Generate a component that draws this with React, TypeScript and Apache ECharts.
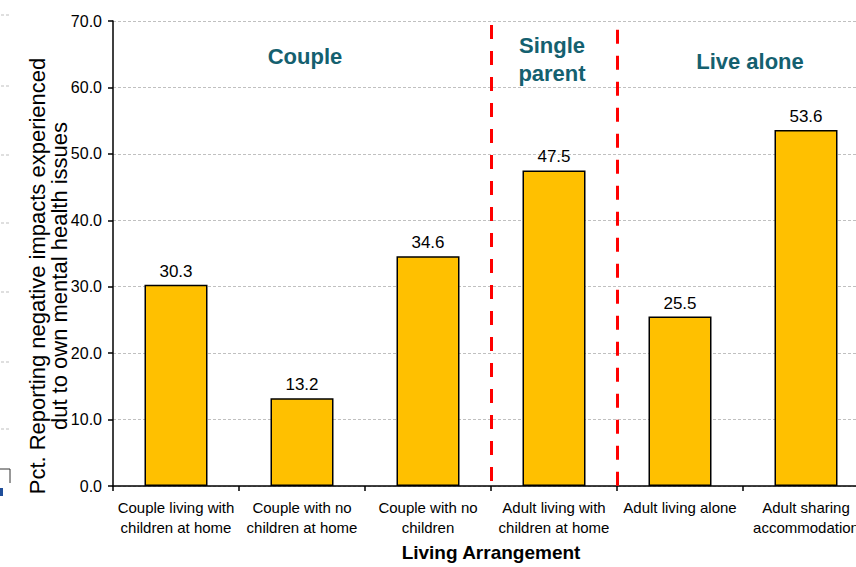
import React, { useEffect, useRef } from "react";
import * as echarts from "echarts";

const categories = [
  "Couple living with\nchildren at home",
  "Couple with no\nchildren at home",
  "Couple with no\nchildren",
  "Adult living with\nchildren at home",
  "Adult living alone",
  "Adult sharing\naccommodation",
];
const values = [30.3, 13.2, 34.6, 47.5, 25.5, 53.6];
const separators = [3, 4];
const separatorTops = [69.4, 68.7];
const groupTitles = ["Couple", "Single\nparent", "Live alone"];
const leftArtifactYs = [15, 86, 155, 223, 292, 362, 429];

export default function App() {
  const ref = useRef<HTMLDivElement>(null);
  useEffect(() => {
    if (!ref.current) return;
    const chart = echarts.init(ref.current, undefined, { renderer: "svg" });
    const font = "Arial, 'Liberation Sans', sans-serif";
    const titleColor = "#14606F";
    const gridLeft = 113;
    const gridTop = 21;
    const gridWidth = 756;
    const gridHeight = 465;
    const band = gridWidth / categories.length;
    const graphics: any[] = [];
    graphics.push({
      type: "text",
      x: gridLeft + band * 1.5 + 3,
      y: 56,
      style: { text: groupTitles[0], fill: titleColor, font: `bold 22px ${font}`, textAlign: "center", textVerticalAlign: "middle" },
    });
    graphics.push({
      type: "text",
      x: gridLeft + band * 3.5 - 2,
      y: 59,
      style: { text: groupTitles[1], fill: titleColor, font: `bold 22px ${font}`, textAlign: "center", textVerticalAlign: "middle", lineHeight: 28 },
    });
    graphics.push({
      type: "text",
      x: gridLeft + band * 5 + 7,
      y: 61,
      style: { text: groupTitles[2], fill: titleColor, font: `bold 22px ${font}`, textAlign: "center", textVerticalAlign: "middle" },
    });
    graphics.push({
      type: "text",
      x: 48,
      y: 276,
      rotation: Math.PI / 2,
      style: {
        text: "Pct. Reporting negative impacts experienced\ndut to own mental health issues",
        fill: "#000",
        font: `22px ${font}`,
        textAlign: "center",
        textVerticalAlign: "middle",
        lineHeight: 22,
      },
    });
    leftArtifactYs.forEach((y) => {
      graphics.push({
        type: "line",
        shape: { x1: 1, y1: y, x2: 11, y2: y },
        style: { stroke: "#BFBFBF", lineWidth: 1, lineDash: [3, 2] },
      });
    });
    graphics.push({
      type: "polyline",
      shape: { points: [[0, 469], [10, 469], [10, 483]] },
      style: { stroke: "#333", lineWidth: 1, fill: "none" },
    });
    graphics.push({
      type: "rect",
      shape: { x: 0, y: 488, width: 3, height: 8 },
      style: { fill: "#1F4E9A" },
    });

    chart.setOption({
      animation: false,
      backgroundColor: "#fff",
      grid: {
        left: gridLeft,
        top: gridTop,
        width: gridWidth,
        height: gridHeight,
        containLabel: false,
        outerBoundsMode: "none",
      },
      xAxis: [
        {
          type: "category",
          data: categories,
          axisLine: { lineStyle: { color: "#000", width: 1.5 } },
          axisTick: { show: true, alignWithLabel: false, length: 5, lineStyle: { color: "#000", width: 1.5 } },
          axisLabel: { interval: 0, color: "#000", fontFamily: font, fontSize: 15, lineHeight: 20, margin: 11, hideOverlap: false },
          name: "Living Arrangement",
          nameLocation: "middle",
          nameGap: 57,
          nameTextStyle: { color: "#000", fontFamily: font, fontSize: 19, fontWeight: "bold", verticalAlign: "top" },
        },
        { type: "value", min: 0, max: categories.length, show: false, position: "top" },
      ],
      yAxis: {
        type: "value",
        min: 0,
        max: 70,
        interval: 10,
        axisLine: { show: true, lineStyle: { color: "#000", width: 1.5 } },
        axisTick: { show: true, length: 5, lineStyle: { color: "#000", width: 1.5 } },
        axisLabel: { color: "#000", fontFamily: font, fontSize: 16, margin: 11, formatter: (v: number) => v.toFixed(1) },
        splitLine: { show: true, lineStyle: { color: "#C0C0C0", type: [3, 2], width: 1 } },
      },
      series: [
        {
          type: "bar",
          data: values,
          barWidth: 63,
          itemStyle: { color: "#FFC000", borderColor: "#000", borderWidth: 1.5 },
          label: {
            show: true,
            position: "top",
            distance: 5,
            color: "#000",
            fontFamily: font,
            fontSize: 17,
            formatter: (p: any) => p.value.toFixed(1),
          },
        },
        {
          type: "line",
          xAxisIndex: 1,
          data: [],
          markLine: {
            symbol: "none",
            silent: true,
            label: { show: false },
            lineStyle: { color: "#FF0000", type: [14, 12], width: 3 },
            data: separators.map((s, i) => [
              { coord: [s, separatorTops[i]] },
              { coord: [s, 0] },
            ]),
          },
        },
      ],
      graphic: graphics,
    });
    return () => chart.dispose();
  }, []);
  return (
    <div style={{ position: "fixed", left: 0, top: 0, width: 856, height: 567, overflow: "hidden", background: "#fff" }}>
      <div ref={ref} style={{ width: 856, height: 567 }} />
    </div>
  );
}
